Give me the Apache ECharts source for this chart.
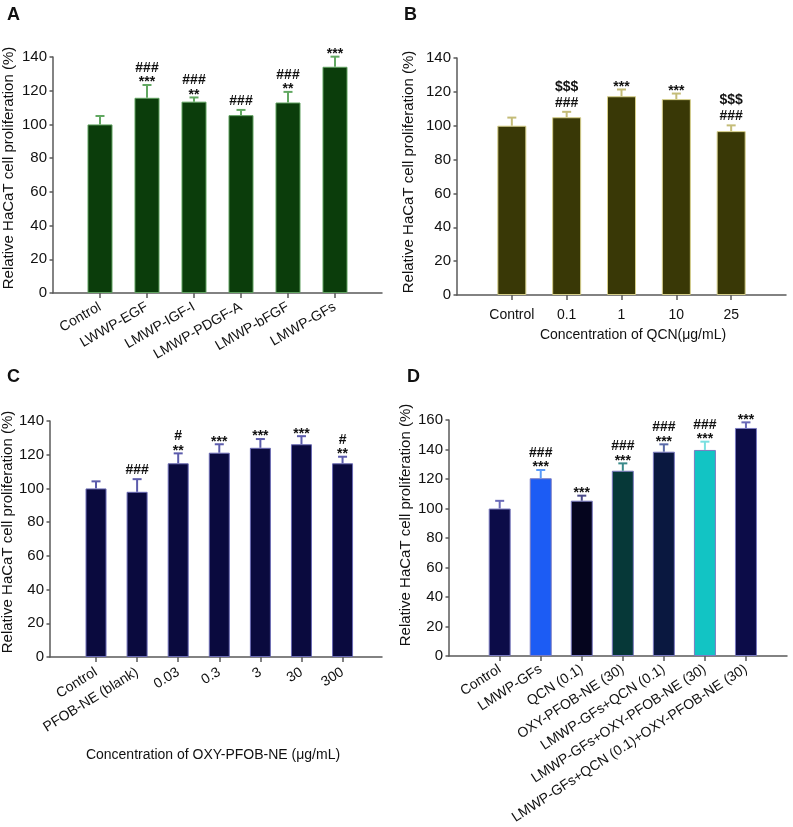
<!DOCTYPE html>
<html><head><meta charset="utf-8">
<script src="https://cdn.jsdelivr.net/npm/echarts@6/dist/echarts.min.js"></script>
<style>html,body{margin:0;padding:0;background:#fff}#c{width:793px;height:827px}</style>
</head><body><div id="c"></div>
<script>
// ---- Data ----
const catsA = ['Control','LWWP-EGF','LMWP-IGF-I','LMWP-PDGF-A','LMWP-bFGF','LMWP-GFs'];
const valA  = [100, 115.8, 113.5, 105.5, 113, 134.2];
const errA  = [5, 7.6, 2.5, 3.1, 6.3, 6];
const annA  = [[], ['###','***'], ['###','**'], ['###'], ['###','**'], ['***']];

const catsB = ['Control','0.1','1','10','25'];
const valB  = [100, 105, 117.4, 115.7, 96.8];
const errB  = [4.8, 3.2, 4, 3.3, 3.4];
const annB  = [[], ['$$$','###'], ['***'], ['***'], ['$$$','###']];

const catsC = ['Control','PFOB-NE (blank)','0.03','0.3','3','30','300'];
const valC  = [100, 98, 114.9, 121.2, 124.1, 126.2, 114.9];
const errC  = [4.2, 7.5, 5.9, 5, 5.2, 4.8, 3.9];
const annC  = [[], ['###'], ['#','**'], ['***'], ['***'], ['***'], ['#','**']];

const catsD = ['Control','LMWP-GFs','QCN (0.1)','OXY-PFOB-NE (30)','LMWP-GFs+QCN (0.1)','LMWP-GFs+OXY-PFOB-NE (30)','LMWP-GFs+QCN (0.1)+OXY-PFOB-NE (30)'];
const valD  = [100, 120.5, 105.3, 125.6, 138.5, 139.7, 154.6];
const errD  = [5.2, 5.6, 3.4, 5, 5, 5.6, 3.8];
const annD  = [[], ['###','***'], ['***'], ['###','***'], ['###','***'], ['###','***'], ['***']];

const yTicksMaxABC = 140, yTicksMaxD = 160;

// ---- Styles ----
const FONT = '"Liberation Sans", Arial, sans-serif';
const AXC = '#5a5a5a';
const colorsD = ['#0c0c48','#1c5cf4','#05051e','#063838','#0a1840','#12c4c4','#0c0c48'];
const errColorsD = ['#6a6ab8','#5a9af8','#4a4a88','#3a8a8a','#5a6aa8','#7ae0e0','#6a6ab8'];

const panels = [
  {cats:catsA, val:valA, err:errA, ann:annA, left:53, top:57, width:329, height:236, min:-1, max:6, ymax:yTicksMaxABC,
   fill:'#0b3d0b', border:'#5fa05f', errc:'#62a862', barW:25, rotate:30, margin:13},
  {cats:catsB, val:valB, err:errB, ann:annB, left:457, top:58, width:329, height:237, min:-1, max:5, ymax:yTicksMaxABC,
   fill:'#393806', border:'#d6cf8a', errc:'#c4bc78', barW:29, rotate:0, margin:13},
  {cats:catsC, val:valC, err:errC, ann:annC, left:50, top:421, width:332, height:236, min:-1.12, max:6.96, ymax:yTicksMaxABC,
   fill:'#0a0a3e', border:'#6a6ab4', errc:'#5c5cac', barW:21, rotate:32, margin:14},
  {cats:catsD, val:valD, err:errD, ann:annD, left:449, top:420, width:338, height:236, min:-1.235, max:7, ymax:yTicksMaxD,
   fill:null, border:'#7a7ac0', errc:null, barW:22, rotate:33, margin:12}
];

const grid = [], xAxis = [], yAxis = [], series = [];
panels.forEach((p, k) => {
  grid.push({left:p.left, top:p.top, width:p.width, height:p.height});
  const idx = p.cats.map((_, i) => i);
  xAxis.push({
    type:'value', gridIndex:k, min:p.min, max:p.max,
    splitLine:{show:false},
    axisLine:{show:true, onZero:false, lineStyle:{color:AXC, width:1.5}},
    axisTick:{show:true, customValues:idx, length:5, lineStyle:{color:AXC, width:1.5}},
    axisLabel:{customValues:idx, rotate:p.rotate, margin:p.margin, color:'#111', fontSize:14, fontFamily:FONT,
      formatter:(v) => p.cats[Math.round(v)] || ''}
  });
  yAxis.push({
    type:'value', gridIndex:k, min:0, max:p.ymax, interval:20,
    splitLine:{show:false},
    axisLine:{show:true, onZero:false, lineStyle:{color:AXC, width:1.5}},
    axisTick:{show:true, length:3.5, lineStyle:{color:AXC, width:1.5}},
    axisLabel:{color:'#111', fontSize:15, fontFamily:FONT, margin:6}
  });
  series.push({
    type:'bar', xAxisIndex:k, yAxisIndex:k, barWidth:p.barW,
    data:p.val.map((v, i) => ({value:[i, v], itemStyle:{color: p.fill || colorsD[i], borderColor:p.border, borderWidth:1}}))
  });
  series.push({
    type:'custom', xAxisIndex:k, yAxisIndex:k, z:5,
    data:p.val.map((v, i) => [i, v, p.err[i]]),
    renderItem:(params, api) => {
      const i = params.dataIndex;
      const x = api.value(0), v = api.value(1), e = api.value(2);
      const p0 = api.coord([x, v]), p1 = api.coord([x, v + e]);
      const col = p.errc || errColorsD[i];
      const children = [
        {type:'line', shape:{x1:p0[0], y1:p0[1], x2:p1[0], y2:p1[1]}, style:{stroke:col, lineWidth:2}},
        {type:'line', shape:{x1:p1[0]-4.5, y1:p1[1], x2:p1[0]+4.5, y2:p1[1]}, style:{stroke:col, lineWidth:2}}
      ];
      const lines = p.ann[i];
      let yc = null;
      for (let j = lines.length - 1; j >= 0; j--) {
        const s = lines[j];
        const star = s[0] === '*';
        if (yc === null) yc = p1[1] - (star ? 6 : 9);
        else yc -= (s[0] === '$' ? 16 : 11);
        children.push({type:'text', x:p1[0], y:yc + (star ? 3.5 : 0),
          style:{text:s, fill:'#111', font:'bold 14px ' + FONT, align:'center', verticalAlign:'middle'}});
      }
      return {type:'group', children};
    }
  });
});

const yTitle = 'Relative HaCaT cell proliferation (%)';
const graphic = [
  {type:'text', left:7, top:6, style:{text:'A', font:'bold 18px ' + FONT, fill:'#111'}},
  {type:'text', left:404, top:6, style:{text:'B', font:'bold 18px ' + FONT, fill:'#111'}},
  {type:'text', left:7, top:368, style:{text:'C', font:'bold 18px ' + FONT, fill:'#111'}},
  {type:'text', left:407, top:368, style:{text:'D', font:'bold 18px ' + FONT, fill:'#111'}},
  {type:'text', x:9, y:168, rotation:Math.PI/2, style:{text:yTitle, font:'15px ' + FONT, fill:'#111', align:'center', verticalAlign:'middle'}},
  {type:'text', x:409, y:172, rotation:Math.PI/2, style:{text:yTitle, font:'15px ' + FONT, fill:'#111', align:'center', verticalAlign:'middle'}},
  {type:'text', x:8, y:532, rotation:Math.PI/2, style:{text:yTitle, font:'15px ' + FONT, fill:'#111', align:'center', verticalAlign:'middle'}},
  {type:'text', x:406, y:525, rotation:Math.PI/2, style:{text:yTitle, font:'15px ' + FONT, fill:'#111', align:'center', verticalAlign:'middle'}},
  {type:'text', x:633, y:335, style:{text:'Concentration of QCN(μg/mL)', font:'14px ' + FONT, fill:'#111', align:'center', verticalAlign:'middle'}},
  {type:'text', x:213, y:755, style:{text:'Concentration of OXY-PFOB-NE (μg/mL)', font:'14px ' + FONT, fill:'#111', align:'center', verticalAlign:'middle'}}
];

const chart = echarts.init(document.getElementById('c'), null, {renderer:'canvas'});
chart.setOption({animation:false, backgroundColor:'#fff', grid, xAxis, yAxis, series, graphic});
</script>
</body></html>
